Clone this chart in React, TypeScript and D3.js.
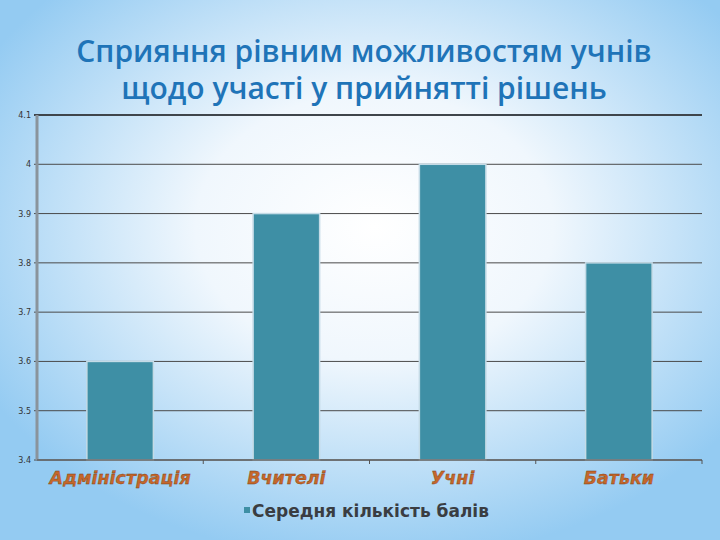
import * as d3 from "d3";
import React from "react";

const categories = ["Адміністрація", "Вчителі", "Учні", "Батьки"];
const values = [3.6, 3.9, 4.0, 3.8];
const yTicks = [3.4, 3.5, 3.6, 3.7, 3.8, 3.9, 4, 4.1];
const titleLines = ["Сприяння рівним можливостям учнів", "щодо участі у прийнятті рішень"];
const seriesName = "Середня кількість балів";

const W = 720;
const H = 540;
const left = 37;
const right = 702;
const top = 115;
const bottom = 460;

export default function App() {
  const x = d3.scaleBand<string>().domain(categories).range([left, right]).paddingInner(0.6).paddingOuter(0.3);
  const band = d3.scaleBand<string>().domain(categories).range([left, right]);
  const y = d3.scaleLinear().domain([3.4, 4.1]).range([bottom, top]);

  return (
    <svg width={W} height={H} style={{ position: "absolute", left: 0, top: 0 }}>
      <defs>
        <radialGradient id="bg" cx="52%" cy="42%" r="62%">
          <stop offset="0%" stopColor="#ffffff" />
          <stop offset="40%" stopColor="#f0f7fd" />
          <stop offset="100%" stopColor="#94cbf2" />
        </radialGradient>
      </defs>
      <rect x={0} y={0} width={W} height={H} fill="url(#bg)" />
      {titleLines.map((t, i) => (
        <text
          key={i}
          x={W / 2 + 4}
          y={62 + i * 37}
          textAnchor="middle"
          fontFamily="'Open Sans', sans-serif"
          fontWeight={600}
          fontSize={30}
          fill="#1f74b8"
        >
          {t}
        </text>
      ))}
      {yTicks.map((t) => (
        <g key={t}>
          <line x1={left - 3} x2={right} y1={y(t)} y2={y(t)} stroke={t === 4.1 ? "#3f454b" : "#4a4a4a"} strokeWidth={t === 4.1 ? 2 : 1} />
          <text x={left - 6} y={y(t) + 3} textAnchor="end" fontFamily="'DejaVu Sans', sans-serif" fontSize={8} fill="#333">
            {t}
          </text>
        </g>
      ))}
      {categories.map((c, i) => (
        <rect key={c} x={x(c)} y={y(values[i])} width={x.bandwidth()} height={bottom - y(values[i])} fill="#3e8fa5" stroke="#c4dbe6" strokeWidth={1.5} />
      ))}
      <line x1={left} x2={left} y1={top} y2={bottom} stroke="#8a949c" strokeWidth={3} />
      <line x1={left} x2={right} y1={bottom} y2={bottom} stroke="#666" strokeWidth={1.5} />
      {categories.map((c) => (
        <line key={c} x1={(band(c) ?? 0) + band.bandwidth()} x2={(band(c) ?? 0) + band.bandwidth()} y1={bottom} y2={bottom + 4} stroke="#555" />
      ))}
      {categories.map((c) => (
        <text
          key={c}
          x={(band(c) ?? 0) + band.bandwidth() / 2}
          y={484}
          textAnchor="middle"
          fontFamily="'DejaVu Sans', sans-serif"
          fontStyle="italic"
          fontWeight="bold"
          fontSize={17.5}
          fill="#c4672b"
          stroke="#7a3a12"
          strokeWidth={0.3}
        >
          {c}
        </text>
      ))}
      <rect x={244} y={507} width={6} height={6} fill="#3e8fa5" />
      <text x={252} y={517} fontFamily="'DejaVu Sans', sans-serif" fontWeight="bold" fontSize={17} fill="#3a3d42">
        {seriesName}
      </text>
    </svg>
  );
}
